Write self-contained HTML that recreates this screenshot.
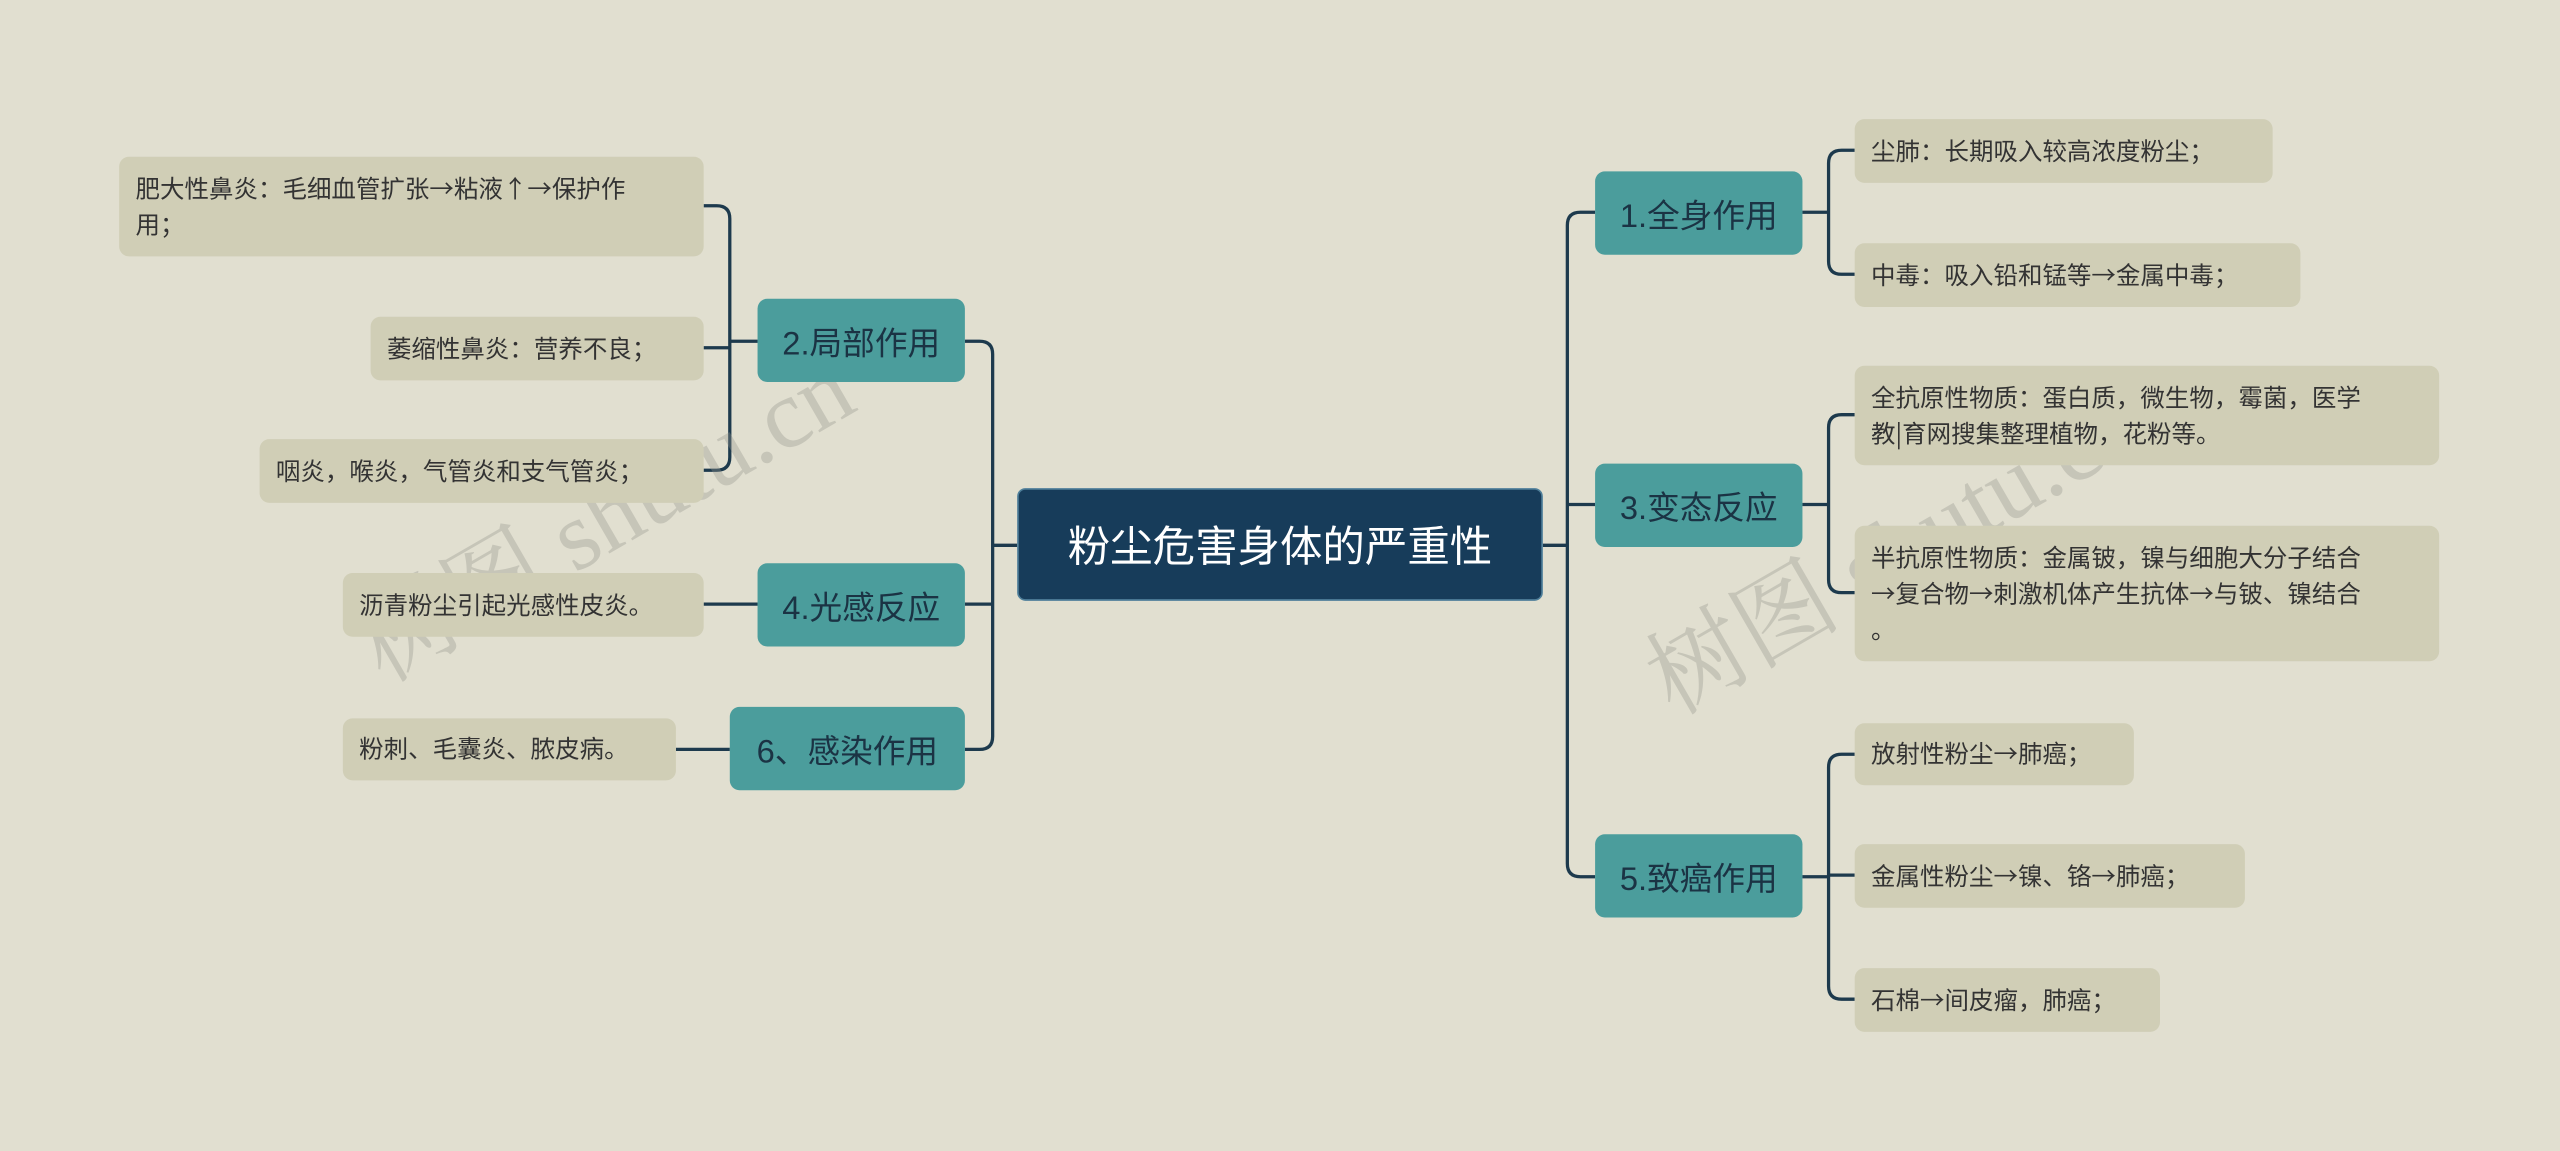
<!DOCTYPE html>
<html><head><meta charset="utf-8"><style>
html,body{margin:0;padding:0;background:#e1dfd0;overflow:hidden;}
#c{position:absolute;left:0;top:0;width:1568px;height:705px;transform:scale(1.63265);transform-origin:0 0;font-family:"Liberation Sans","Noto Sans CJK SC",sans-serif;}
.n{position:absolute;box-sizing:border-box;display:flex;align-items:center;}
.root{background:#173c5a;color:#fff;font-size:26px;justify-content:center;border-radius:5px;border:1px solid #4f7f9a;}
.l1{background:#4b9d9c;color:#1b3344;font-size:20px;justify-content:center;border-radius:6px;}
.lf{background:#d0ceb6;color:#333;font-size:15px;border-radius:6px;padding:0 40px 0 10px;line-height:22px;font-family:"Noto Sans CJK SC",sans-serif;line-break:anywhere;white-space:normal;}
.lf.s{padding-right:6px;white-space:nowrap;}
.wm{position:absolute;font-size:60px;color:rgba(150,150,140,0.35);transform:rotate(-30deg);white-space:nowrap;font-family:"Liberation Serif","Noto Serif CJK SC",serif;}
</style></head><body><div id="c">
<svg width="1568" height="705" style="position:absolute;left:0;top:0" fill="none" stroke="#1d3a4d" stroke-width="2">
<path d="M945 334H960M977 130H968Q960 130 960 138V529Q960 537 968 537H977M960 309H977"/>
<path d="M623 334H608M591 209H600Q608 209 608 217V451Q608 459 600 459H591M591 370H608"/>
<path d="M1104 130H1120M1136 92H1128Q1120 92 1120 100V160Q1120 168 1128 168H1136"/>
<path d="M1104 309H1120M1136 254H1128Q1120 254 1120 262V355Q1120 363 1128 363H1136"/>
<path d="M1104 537H1120M1136 462H1128Q1120 462 1120 470V604Q1120 612 1128 612H1136M1120 536H1136"/>
<path d="M464 209H447M431 126H439Q447 126 447 134V280Q447 288 439 288H431M431 213H447"/>
<path d="M431 370H464M414 459H447"/>
</svg>
<div class="wm" style="left:200px;top:270px">树图 shutu.cn</div>
<div class="wm" style="left:990px;top:290px">树图 shutu.cn</div>
<div class="n root" style="left:623px;top:299px;width:322px;height:69px">粉尘危害身体的严重性</div>
<div class="n l1" style="left:977px;top:105px;width:127px;height:51px">1.全身作用</div>
<div class="n l1" style="left:977px;top:284px;width:127px;height:51px">3.变态反应</div>
<div class="n l1" style="left:977px;top:511px;width:127px;height:51px">5.致癌作用</div>
<div class="n l1" style="left:464px;top:183px;width:127px;height:51px">2.局部作用</div>
<div class="n l1" style="left:464px;top:345px;width:127px;height:51px">4.光感反应</div>
<div class="n l1" style="left:447px;top:433px;width:144px;height:51px">6、感染作用</div>
<div class="n lf s" style="left:1136px;top:73px;width:256px;height:39px">尘肺：长期吸入较高浓度粉尘；</div>
<div class="n lf s" style="left:1136px;top:149px;width:273px;height:39px">中毒：吸入铅和锰等→金属中毒；</div>
<div class="n lf" style="left:1136px;top:224px;width:358px;height:61px"><span>全抗原性物质：蛋白质，微生物，霉菌，医学教|育网搜集整理植物，花粉等。</span></div>
<div class="n lf" style="left:1136px;top:322px;width:358px;height:83px"><span>半抗原性物质：金属铍，镍与细胞大分子结合→复合物→刺激机体产生抗体→与铍、镍结合。</span></div>
<div class="n lf s" style="left:1136px;top:443px;width:171px;height:38px">放射性粉尘→肺癌；</div>
<div class="n lf s" style="left:1136px;top:517px;width:239px;height:39px">金属性粉尘→镍、铬→肺癌；</div>
<div class="n lf s" style="left:1136px;top:593px;width:187px;height:39px">石棉→间皮瘤，肺癌；</div>
<div class="n lf" style="left:73px;top:96px;width:358px;height:61px"><span>肥大性鼻炎：毛细血管扩张→粘液↑→保护作用；</span></div>
<div class="n lf s" style="left:227px;top:194px;width:204px;height:39px">萎缩性鼻炎：营养不良；</div>
<div class="n lf s" style="left:159px;top:269px;width:272px;height:39px">咽炎，喉炎，气管炎和支气管炎；</div>
<div class="n lf s" style="left:210px;top:351px;width:221px;height:39px">沥青粉尘引起光感性皮炎。</div>
<div class="n lf s" style="left:210px;top:440px;width:204px;height:38px">粉刺、毛囊炎、脓皮病。</div>
</div></body></html>
